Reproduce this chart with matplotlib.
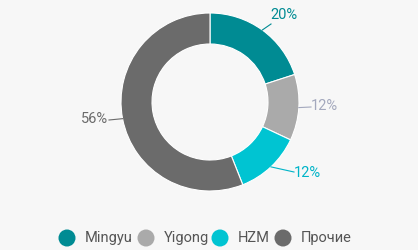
import matplotlib
matplotlib.use('Agg')
import matplotlib.pyplot as plt
import numpy as np

plt.rcParams['font.family'] = ['Roboto', 'DejaVu Sans']

# данные
labels = ['Mingyu', 'Yigong', 'HZM', 'Прочие']
shares = [20, 12, 12, 56]
colors = ['#008b93', '#aaaaaa', '#00c4d2', '#6b6b6b']
label_colors = ['#008b93', '#a3a8bd', '#00b4c8', '#6b6b6b']

BG = '#f7f7f7'
fig = plt.figure(figsize=(4.18, 2.5), dpi=100)
fig.patch.set_facecolor(BG)
ax = fig.add_axes([0, 0, 1, 1])
ax.set_facecolor(BG)
ax.axis('off')

cx, cy, R = 210, -102, 89
wedges, _ = ax.pie(shares, colors=colors, startangle=90, counterclock=False,
                   center=(cx, cy), radius=R,
                   wedgeprops=dict(width=31, edgecolor='white', linewidth=0.8))
ax.set_xlim(0, 418)
ax.set_ylim(-250, 0)

# подписи с выносками
text_pos = [(284, -15), (324, -106), (307, -173), (95, -119)]
line_end = [(271, -24), (311, -107), (294, -172), (109, -120)]
for w, val, lc, tp, le in zip(wedges, shares, label_colors, text_pos, line_end):
    mid = np.deg2rad((w.theta1 + w.theta2) / 2)
    x0, y0 = cx + R * np.cos(mid), cy + R * np.sin(mid)
    ax.plot([x0, le[0]], [y0, le[1]], color=lc, lw=0.8)
    ax.text(tp[0], tp[1], f'{val}%', color=lc, fontsize=10.5,
            ha='center', va='center')

# легенда
leg_x = [67, 146, 220, 283]
for x, c, lab in zip(leg_x, colors, labels):
    ax.scatter([x], [-238], s=150, color=c, edgecolors='none')
    ax.text(x + 18, -238, lab, color='#555555', fontsize=10.5,
            ha='left', va='center')

plt.savefig('out.png', dpi=100, facecolor=BG)
